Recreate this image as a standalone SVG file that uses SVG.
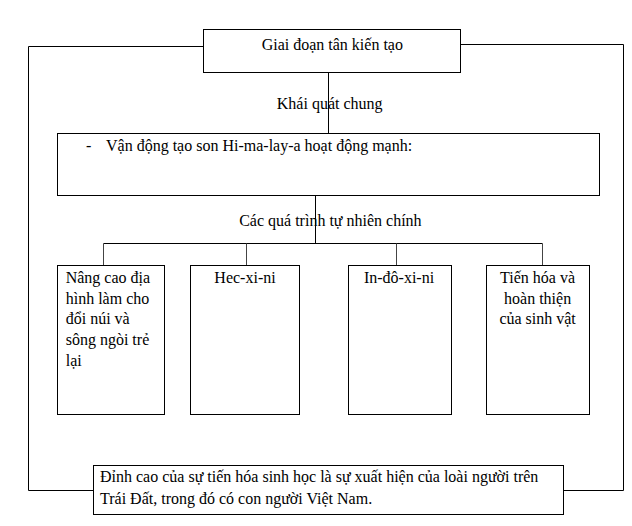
<svg xmlns="http://www.w3.org/2000/svg" width="632" height="526" viewBox="0 0 632 526">
<style>
  .box { fill: #fff; stroke: #000; stroke-width: 1; }
  .ln { fill: none; stroke: #000; stroke-width: 1; }
  .thin { fill: none; stroke: #444; stroke-width: 1; }
  text { font-family: "Liberation Serif", "Times New Roman", serif; font-size: 16px; fill: #000; }
  .c { text-anchor: middle; }
</style>
<rect width="632" height="526" fill="#fff"/>
<g id="connectors">
  <polyline class="ln" points="203.5,46.5 28.5,46.5 28.5,490.5 93.5,490.5"/>
  <polyline class="ln" points="460.5,44.5 623.5,44.5 623.5,490.5 563.5,490.5"/>
  <line class="ln" x1="328.5" y1="72.5" x2="328.5" y2="133.5"/>
  <line class="ln" x1="315.5" y1="195.5" x2="315.5" y2="243.5"/>
  <line class="ln" x1="103.5" y1="243.5" x2="542.5" y2="243.5"/>
  <line class="thin" x1="103.5" y1="243.5" x2="103.5" y2="265.5"/>
  <line class="thin" x1="246.5" y1="243.5" x2="246.5" y2="265.5"/>
  <line class="thin" x1="396.5" y1="243.5" x2="396.5" y2="265.5"/>
  <line class="thin" x1="542.5" y1="243.5" x2="542.5" y2="265.5"/>
  <text class="c" x="329.7" y="109">Khái quát chung</text>
  <text class="c" x="330.4" y="225.7">Các quá trình tự nhiên chính</text>
</g>
<g id="top">
  <rect class="box" x="203.5" y="29.5" width="257" height="43"/>
  <text class="c" x="332.3" y="50">Giai đoạn tân kiến tạo</text>
</g>
<g id="himalaya">
  <rect class="box" x="57.5" y="133.5" width="542" height="62"/>
  <text x="86" y="150.5">-</text>
  <text x="106" y="150.5">Vận động tạo son Hi-ma-lay-a hoạt động mạnh:</text>
</g>
<g id="n1">
  <rect class="box" x="57.5" y="265.5" width="107" height="149"/>
  <text x="65.7" y="283">Nâng cao địa</text>
  <text x="65.7" y="303.7">hình làm cho</text>
  <text x="65.7" y="324.4">đổi núi và</text>
  <text x="65.7" y="345.1">sông ngòi trẻ</text>
  <text x="65.7" y="365.8">lại</text>
</g>
<g id="n2">
  <rect class="box" x="190.5" y="265.5" width="109" height="149"/>
  <text class="c" x="245" y="283">Hec-xi-ni</text>
</g>
<g id="n3">
  <rect class="box" x="348.5" y="265.5" width="103" height="149"/>
  <text class="c" x="399" y="283">In-đô-xi-ni</text>
</g>
<g id="n4">
  <rect class="box" x="486.5" y="265.5" width="103" height="149"/>
  <text class="c" x="537.6" y="283">Tiến hóa và</text>
  <text class="c" x="537.6" y="303.7">hoàn thiện</text>
  <text class="c" x="537.6" y="324.4">của sinh vật</text>
</g>
<g id="bottom">
  <rect class="box" x="93.5" y="465.5" width="470" height="49"/>
  <text x="100" y="482.3">Đỉnh cao của sự tiến hóa sinh học là sự xuất hiện của loài người trên</text>
  <text x="100" y="504">Trái Đất, trong đó có con người Việt Nam.</text>
</g>
</svg>
